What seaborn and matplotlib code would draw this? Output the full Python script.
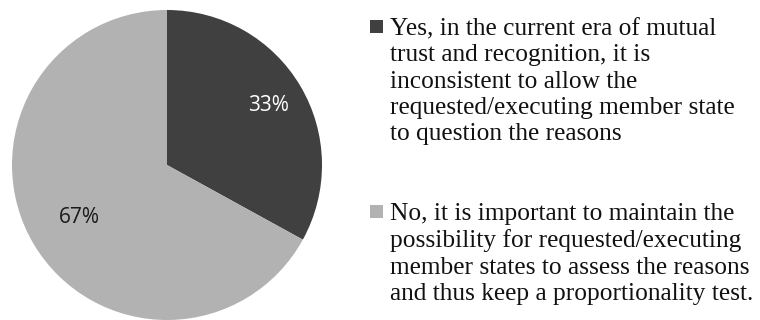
import numpy as np
import matplotlib
matplotlib.use("Agg")
import matplotlib.pyplot as plt
import seaborn as sns
from matplotlib.patches import Rectangle

sns.set_theme(style="white")
plt.rcParams['font.family'] = ['Open Sans', 'DejaVu Sans']

# survey answers and their shares (%)
answers = [
    "Yes, in the current era of mutual\ntrust and recognition, it is\ninconsistent to allow the\n"
    "requested/executing member state\nto question the reasons",
    "No, it is important to maintain the\npossibility for requested/executing\n"
    "member states to assess the reasons\nand thus keep a proportionality test.",
]
shares = [33, 67]

slice_colors = sns.color_palette(["#404040", "#b2b2b2"])
label_colors = ["white", "#1a1a1a"]
label_dist = [0.76, 0.66]

fig = plt.figure(figsize=(7.6, 3.2), dpi=100)
ax = fig.add_axes([12 / 760, 0, 310 / 760, 310 / 320])

wedges, _ = ax.pie(shares, colors=slice_colors, startangle=90, counterclock=False,
                   wedgeprops=dict(linewidth=0))

# percentage labels at the middle of each wedge
for w, pct, col, d in zip(wedges, shares, label_colors, label_dist):
    ang = np.deg2rad((w.theta1 + w.theta2) / 2)
    ax.text(d * np.cos(ang), d * np.sin(ang), f"{pct}%", ha="center", va="center",
            color=col, fontsize=15)

ax.set_xlim(-1, 1)
ax.set_ylim(-1, 1)
ax.set_aspect("equal")
ax.axis("off")

# legend drawn by hand so the square sits next to the first line
first_line = [26, 211]   # px from top of figure, centre of first text line
for label, c, y in zip(answers, slice_colors, first_line):
    fig.add_artist(Rectangle((370 / 760, 1 - (y + 7) / 320), 13 / 760, 13 / 320,
                             transform=fig.transFigure, color=c, lw=0))
    fig.text(390 / 760, 1 - (y - 8) / 320, label, ha="left", va="top", fontsize=18.3,
             family=["Liberation Serif", "DejaVu Serif"], color="#111111", linespacing=1.25)

fig.savefig("out.png", dpi=100)
